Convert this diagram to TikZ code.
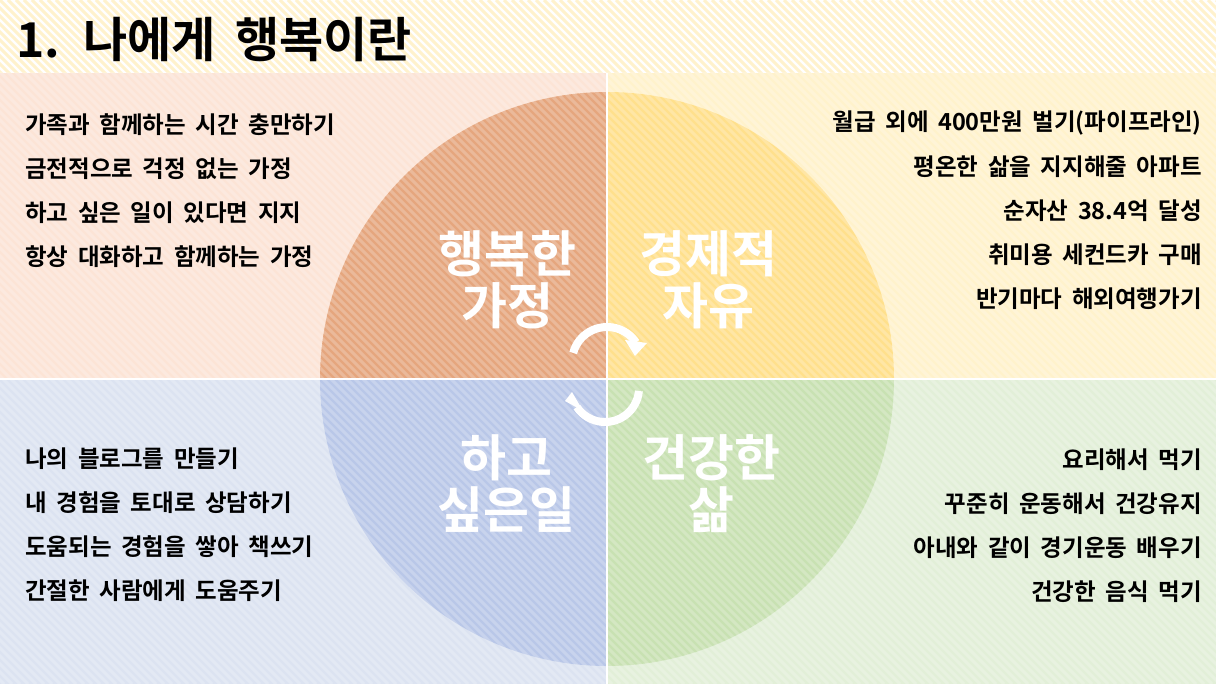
\documentclass[tikz,border=0pt]{standalone}
\usepackage{fontspec}
\setmainfont{Noto Sans CJK KR}[BoldFont={Noto Sans CJK KR Bold}]
\newfontfamily\goalfont{Noto Sans CJK KR Bold}[WordSpace=2.2]
\newfontfamily\titlefont{Noto Sans CJK KR Bold}[WordSpace=1.8]
\usetikzlibrary{arrows.meta}
\definecolor{familybg}{HTML}{FCE4D6}
\definecolor{familycol}{HTML}{E5A67E}
\definecolor{moneybg}{HTML}{FFF2CC}
\definecolor{moneycol}{HTML}{FFE08C}
\definecolor{dreambg}{HTML}{DCE3F1}
\definecolor{dreamcol}{HTML}{B9C7E8}
\definecolor{healthbg}{HTML}{E2EFD8}
\definecolor{healthcol}{HTML}{C8E1B2}
\definecolor{stripecol}{HTML}{FFEDB8}
\tikzset{
  goal/.style={font=\goalfont\fontsize{23.5}{24}\selectfont, inner sep=0pt},
  theme/.style={font=\fontsize{50}{52}\selectfont\bfseries, text=white,
    align=center, inner sep=0pt},
  stripe/.style={draw=white, line width=3pt, opacity=.22},
  titlestripe/.style={draw=stripecol, line width=3pt, opacity=.7},
  cyclearc/.style={draw=white, line width=8pt},
}
\begin{document}
\begin{tikzpicture}[x=1pt,y=-1pt]
\useasboundingbox (0,0) rectangle (1216,684);
% backgrounds
\fill[white] (0,0) rectangle (1216,73);
\fill[familybg] (0,73) rectangle (607,379);
\fill[moneybg] (607,73) rectangle (1216,379);
\fill[dreambg] (0,379) rectangle (607,684);
\fill[healthbg] (607,379) rectangle (1216,684);
% the circle
\coordinate (c) at (607,379);
\fill[familycol] (c) -- ++(180:287) arc[start angle=180,end angle=270,radius=287] -- cycle;
\fill[moneycol] (c) -- ++(270:287) arc[start angle=270,end angle=360,radius=287] -- cycle;
\fill[healthcol] (c) -- ++(0:287) arc[start angle=0,end angle=90,radius=287] -- cycle;
\fill[dreamcol] (c) -- ++(90:287) arc[start angle=90,end angle=180,radius=287] -- cycle;
% stripes
\begin{scope}
  \clip (0,0) rectangle (1216,73);
  \foreach \s in {-80,-72,...,1216}
    \draw[titlestripe] (\s,0) -- ++(80,80);
\end{scope}
\begin{scope}
  \clip (0,73) rectangle (1216,684);
  \foreach \s in {-688,-680,...,1216}
    \draw[stripe] (\s,0) -- ++(684,684);
\end{scope}
\draw[white, line width=2pt] (0,379) -- (1216,379);
\draw[white, line width=2pt] (607,73) -- (607,684);
% cycle arrows
\coordinate (up) at (607,362);
\coordinate (down) at (605,388);
\draw[cyclearc] (up) ++(195:35) arc[start angle=195,end angle=326,radius=35];
\fill[white] (625,340) -- (647,343) -- (635,356) -- cycle;
\draw[cyclearc] (down) ++(5:34) arc[start angle=5,end angle=146,radius=34];
\fill[white] (572,392) -- (583,411) -- (565,401) -- cycle;
% title
\node[font=\titlefont\fontsize{48}{48}\selectfont, anchor=west, inner sep=0pt]
  (title) at (16,40) {1. 나에게 행복이란};
% themes
\node[theme] (family) at (507,280) {행복한\\가정};
\node[theme] (money) at (708,280) {경제적\\자유};
\node[theme] (dream) at (506,484) {하고\\싶은일};
\node[theme] (health) at (711,484) {건강한\\삶};
% goals
\foreach \t [count=\i] in {가족과 함께하는 시간 충만하기, 금전적으로 걱정 없는 가정,
    하고 싶은 일이 있다면 지지, 항상 대화하고 함께하는 가정}
  \node[goal, anchor=west] (family\i) at (25,125+44*\i-44) {\t};
\foreach \t [count=\i] in {월급 외에 400만원 벌기(파이프라인), 평온한 삶을 지지해줄 아파트,
    순자산 38.4억 달성, 취미용 세컨드카 구매, 반기마다 해외여행가기}
  \node[goal, anchor=east] (money\i) at (1202,123+44*\i-44) {\t};
\foreach \t [count=\i] in {나의 블로그를 만들기, 내 경험을 토대로 상담하기,
    도움되는 경험을 쌓아 책쓰기, 간절한 사람에게 도움주기}
  \node[goal, anchor=west] (dream\i) at (25,459+44*\i-44) {\t};
\foreach \t [count=\i] in {요리해서 먹기, 꾸준히 운동해서 건강유지,
    아내와 같이 경기운동 배우기, 건강한 음식 먹기}
  \node[goal, anchor=east] (health\i) at (1202,460+44*\i-44) {\t};
\end{tikzpicture}
\end{document}
